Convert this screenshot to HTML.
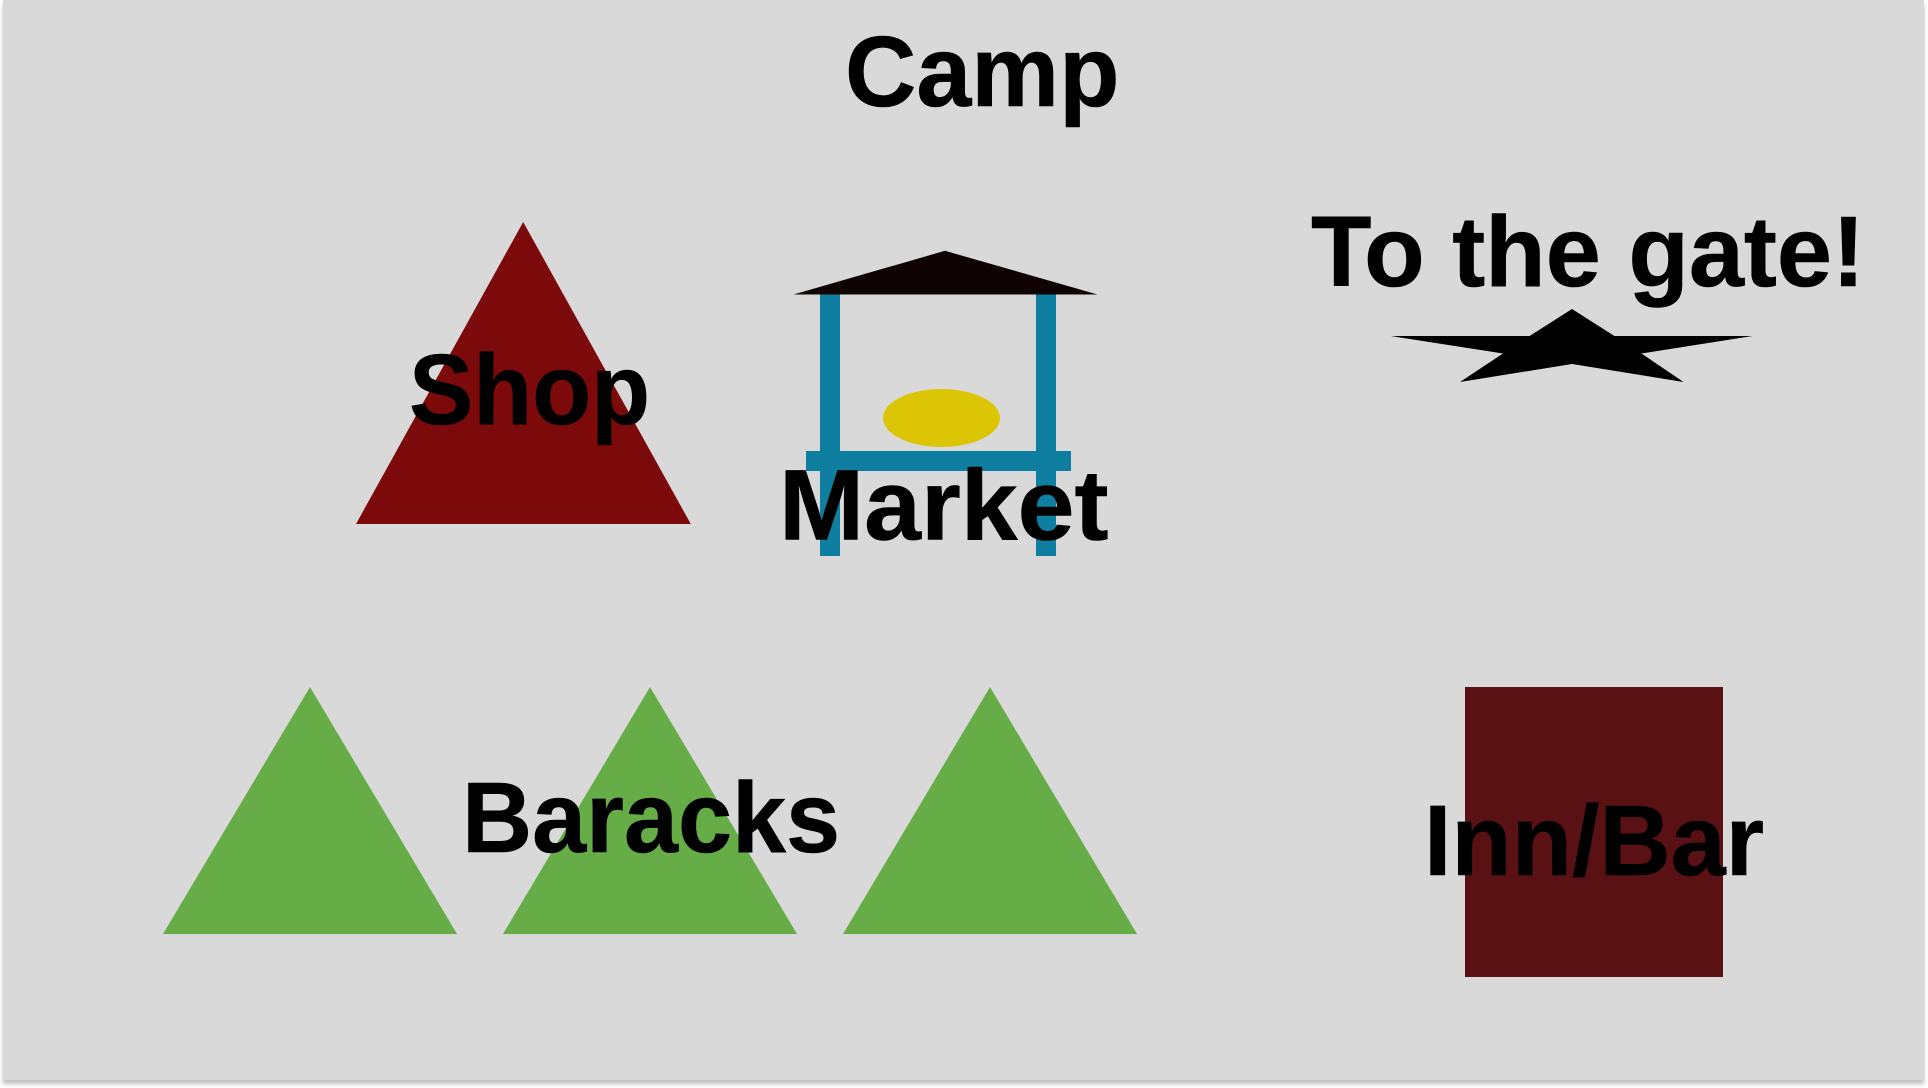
<!DOCTYPE html>
<html lang="en">
<head>
<meta charset="utf-8">
<title>Camp</title>
<style>
  html, body { margin: 0; padding: 0; width: 1928px; height: 1088px; background: #ffffff; overflow: hidden; }
  #board { position: absolute; left: 3px; top: 0; width: 1921px; height: 1080px; background: #d9d9d9; box-shadow: 0 4px 4px rgba(0,0,0,0.25); }
  #map { position: absolute; left: 0; top: 0; }
  text { font-family: "Liberation Sans", sans-serif; font-weight: 700; font-size: 100px; fill: #000000; stroke: #000000; stroke-width: 0.6px; }
</style>
</head>
<body>
<div id="board"></div>
<svg id="map" width="1928" height="1088" viewBox="0 0 1928 1088" xmlns="http://www.w3.org/2000/svg">
  <polygon points="523.2,222 690.8,524 356,524" fill="#7d0a0a"/>

  <g>
    <rect x="820" y="294" width="20" height="262" fill="#0e7fa1"/>
    <rect x="1036" y="294" width="20" height="262" fill="#0e7fa1"/>
    <rect x="806" y="451" width="265" height="20" fill="#0e7fa1"/>
    <polygon points="945,250.8 1097.5,294.5 793.5,294.5" fill="#0e0202"/>
    <ellipse cx="941.5" cy="418" rx="58.5" ry="29" fill="#dcc505"/>
  </g>

  <polygon points="1572,309 1614.4,336 1752.5,336 1641.5,353.5 1683.5,382 1572,364 1460,382 1503,353.5 1391,336 1529.6,336" fill="#000000"/>

  <polygon points="310,687 457,934 163,934" fill="#67ad47"/>
  <polygon points="650,687 797,934 503,934" fill="#67ad47"/>
  <polygon points="990,687 1137,934 843,934" fill="#67ad47"/>

  <rect x="1465" y="687" width="258" height="290" fill="#5a1113"/>

  <text x="845" y="106" textLength="274.5" lengthAdjust="spacingAndGlyphs">Camp</text>
  <text x="409" y="424" textLength="241" lengthAdjust="spacingAndGlyphs">Shop</text>
  <text x="779" y="539.5" textLength="329.5" lengthAdjust="spacingAndGlyphs">Market</text>
  <text x="1311" y="286" textLength="554" lengthAdjust="spacingAndGlyphs">To the gate!</text>
  <text x="462" y="852" textLength="378" lengthAdjust="spacingAndGlyphs">Baracks</text>
  <text x="1424" y="875" textLength="340" lengthAdjust="spacingAndGlyphs">Inn/Bar</text>
</svg>
</body>
</html>
